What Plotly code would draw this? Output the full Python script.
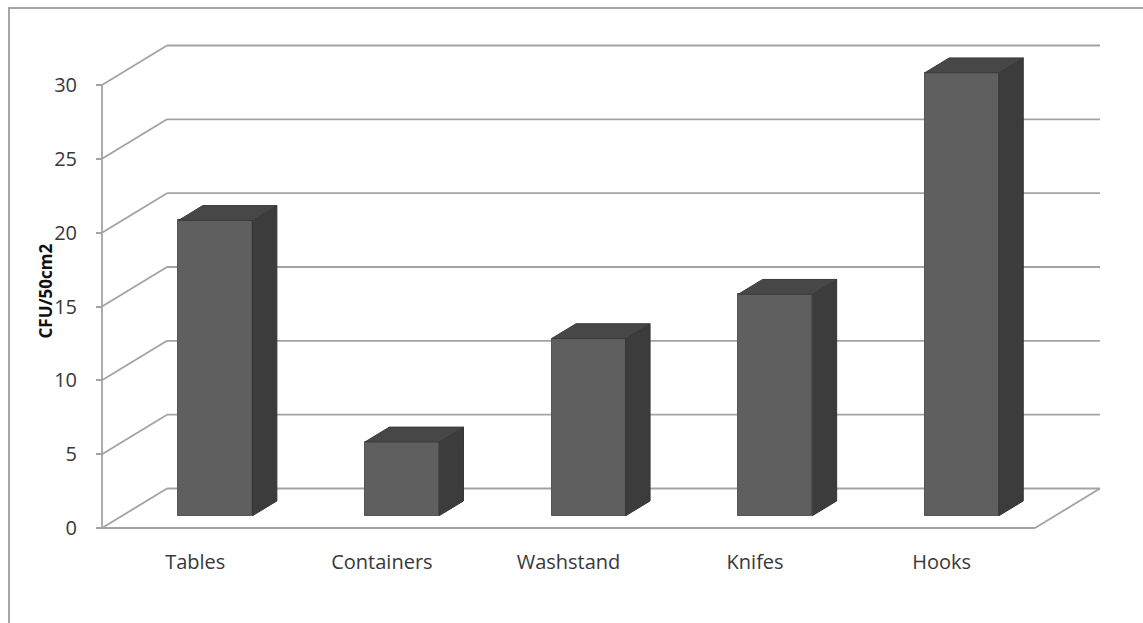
import plotly.graph_objects as go

# ---- data ----
categories = ["Tables", "Containers", "Washstand", "Knifes", "Hooks"]
values = [20, 5, 12, 15, 30]
y_ticks = [0, 5, 10, 15, 20, 25, 30]
y_title = "CFU/50cm2"

# ---- geometry (pixel layout of the figure) ----
W, H = 1143, 623
ax_px, ax_py = 102, 528          # front axis origin in pixels
px_per_cat = 186.6               # pixels per category
px_per_unit = 14.767             # pixels per value unit
depth_px_x, depth_px_y = 65, 39.5  # full-depth offset of the back wall

DX = depth_px_x / px_per_cat      # full depth offset in x data units
DY = depth_px_y / px_per_unit     # full depth offset in y data units
t_front, t_back = 0.31, 0.685     # bar depth position
bar_w = 0.397
n = len(categories)
ymax = max(y_ticks)

x_range = [-ax_px / px_per_cat, (W - ax_px) / px_per_cat]
y_range = [-(H - ax_py) / px_per_unit, ax_py / px_per_unit]

grid_col = "#a3a3a3"
grid_w = 1.8
front_col = "#5f5f5f"
side_col = "#3c3c3c"
top_col = "#474747"
text_col = "#383838"

shapes = []
def seg(x0, y0, x1, y1):
    shapes.append(dict(type="line", xref="x", yref="y", x0=x0, y0=y0, x1=x1, y1=y1,
                       line=dict(color=grid_col, width=grid_w), layer="below"))

# gridlines: diagonal on the left wall + horizontal on the back wall
for v in y_ticks:
    seg(0, v, DX, v + DY)
    seg(DX, v + DY, n + DX, v + DY)
# floor
seg(0, 0, n, 0)
seg(n, 0, n + DX, DY)
# front vertical axis line
seg(0, 0, 0, ymax)

# outer border of the chart
shapes.append(dict(type="rect", xref="paper", yref="paper",
                   x0=9 / W, x1=1.05, y0=-0.05, y1=1 - 8 / H,
                   line=dict(color="#a6a6a6", width=2), layer="below"))

fig = go.Figure()

centers = [i + 0.5 + t_front * DX for i in range(n)]
base = t_front * DY
fig.add_trace(go.Bar(x=centers, y=values, base=[base] * n, width=bar_w,
                     marker=dict(color=front_col, line=dict(color="#555555", width=1)),
                     showlegend=False, hoverinfo="skip"))

ddx = (t_back - t_front) * DX
ddy = (t_back - t_front) * DY
for c, v in zip(centers, values):
    xl, xr = c - bar_w / 2, c + bar_w / 2
    top = base + v
    # side face
    fig.add_trace(go.Scatter(x=[xr, xr, xr + ddx, xr + ddx, xr],
                             y=[base, top, top + ddy, base + ddy, base],
                             fill="toself", fillcolor=side_col, mode="lines",
                             line=dict(color="#353535", width=1),
                             showlegend=False, hoverinfo="skip"))
    # top face
    fig.add_trace(go.Scatter(x=[xl, xr, xr + ddx, xl + ddx, xl],
                             y=[top, top, top + ddy, top + ddy, top],
                             fill="toself", fillcolor=top_col, mode="lines",
                             line=dict(color="#3a3a3a", width=1),
                             showlegend=False, hoverinfo="skip"))

fig.update_layout(
    width=W, height=H,
    margin=dict(l=0, r=0, t=0, b=0),
    paper_bgcolor="white", plot_bgcolor="white",
    shapes=shapes,
    xaxis=dict(range=x_range, domain=[0, 1], anchor="free", position=(H - ax_py) / H,
               tickvals=[i + 0.5 for i in range(n)], ticktext=categories,
               showgrid=False, zeroline=False, showline=False, ticks="",
               ticklabelstandoff=20,
               tickfont=dict(family="Open Sans", size=20, color=text_col)),
    yaxis=dict(range=y_range, domain=[0, 1], anchor="free", position=ax_px / W,
               tickvals=y_ticks, showgrid=False, zeroline=False, showline=False,
               ticks="outside", ticklen=6, tickcolor=grid_col, tickwidth=grid_w,
               ticklabelstandoff=15,
               tickfont=dict(family="Open Sans", size=20, color=text_col)),
    annotations=[dict(text="<b>" + y_title + "</b>", xref="paper", yref="paper",
                      x=31 / W, y=1 - 291 / H, textangle=-90, showarrow=False,
                      font=dict(family="Open Sans", size=17, color="#111111"))],
    bargap=0,
)

fig.write_html("out.html")
